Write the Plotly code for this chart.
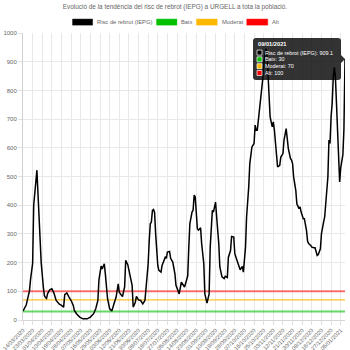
import pandas as pd
import plotly.graph_objects as go

# Risk-of-regrowth index (IEPG) for URGELL, sampled by day offset from 14/03/2020
start_date = "2020-03-14"
days = [0, 2, 3, 5, 6, 7, 8, 9, 10, 11, 13, 14, 16, 17, 19, 20, 21, 22, 23, 25,
        27, 29, 31, 34, 36, 38, 39, 41, 43, 45, 47, 48, 50, 53, 56, 60, 63, 66, 68, 70,
        71, 72, 73, 74, 75, 76, 77, 78, 79, 81, 83, 85, 87, 89, 90, 92, 93, 95, 96, 98,
        100, 102, 103, 105, 106, 108, 110, 112, 114, 115, 117, 118, 119, 120, 121, 122, 123, 124, 125, 126,
        127, 129, 130, 132, 133, 134, 135, 137, 138, 140, 142, 143, 145, 146, 148, 149, 151, 153, 154, 155,
        156, 158, 159, 160, 161, 163, 164, 166, 167, 169, 170, 172, 174, 175, 177, 178, 179, 180, 181, 183,
        184, 186, 188, 189, 191, 192, 194, 195, 197, 198, 200, 202, 203, 205, 206, 208, 209, 211, 212, 214,
        216, 217, 218, 219, 221, 223, 224, 225, 226, 227, 228, 229, 230, 231, 233, 234, 235, 237, 238, 240,
        241, 243, 244, 246, 247, 248, 250, 251, 252, 253, 255, 256, 258, 259, 260, 262, 263, 265, 266, 267,
        269, 270, 272, 273, 275, 276, 278, 279, 281, 282, 283, 285, 286, 287, 288, 289, 290, 291, 292, 293,
        294, 295, 296, 297, 298, 299, 300, 301]
iepg = [31, 45, 52, 85, 100, 140, 167, 197, 400, 440, 522, 441, 302, 200, 115, 85, 78, 75, 92, 105,
        109, 93, 68, 55, 51, 45, 88, 94, 80, 68, 51, 33, 22, 10, 4, 4, 10, 22, 39, 68,
        140, 175, 188, 178, 185, 196, 160, 120, 75, 39, 31, 56, 79, 126, 97, 86, 82, 115, 208, 192,
        161, 121, 45, 62, 82, 70, 68, 56, 68, 115, 196, 277, 335, 341, 382, 385, 375, 300, 230, 190,
        173, 167, 190, 208, 219, 215, 237, 239, 215, 202, 161, 121, 97, 91, 132, 126, 115, 140, 155, 254,
        336, 376, 382, 435, 429, 318, 313, 321, 266, 196, 91, 59, 91, 254, 382, 376, 400, 411, 360, 266,
        185, 150, 144, 152, 148, 219, 242, 291, 289, 231, 208, 182, 175, 187, 167, 254, 359, 463, 545, 603,
        615, 679, 661, 661, 731, 778, 836, 890, 925, 945, 935, 870, 800, 708, 673, 690, 661, 592, 533, 539,
        568, 580, 627, 667, 638, 598, 563, 557, 545, 498, 452, 405, 388, 394, 376, 353, 353, 312, 275, 266,
        260, 254, 252, 252, 225, 228, 248, 301, 341, 359, 405, 498, 627, 615, 708, 754, 842, 880, 850, 760,
        620, 560, 481, 530, 560, 575, 665, 909.1]

# Risk thresholds
baix = 30
moderat = 70
alt = 100

tick_labels = ["14/03/2020", "23/03/2020", "01/04/2020", "10/04/2020", "19/04/2020", "28/04/2020",
               "07/05/2020", "16/05/2020", "25/05/2020", "03/06/2020", "12/06/2020", "21/06/2020",
               "30/06/2020", "09/07/2020", "18/07/2020", "27/07/2020", "05/08/2020", "14/08/2020",
               "23/08/2020", "01/09/2020", "10/09/2020", "19/09/2020", "28/09/2020", "07/10/2020",
               "16/10/2020", "25/10/2020", "03/11/2020", "12/11/2020", "21/11/2020", "30/11/2020",
               "09/12/2020", "18/12/2020", "27/12/2020", "05/01/2021"]

dates = pd.Timestamp(start_date) + pd.to_timedelta(days, unit="D")
tick_vals = pd.to_datetime(tick_labels, format="%d/%m/%Y")
x_span = [dates[0], dates[-1]]

FONT = "Liberation Sans, Arial, Helvetica, sans-serif"
GREY = "#666666"
C_IEPG = "#000000"
C_BAIX = "#00c000"
C_MOD = "#ffb800"
C_ALT = "#ff0000"

fig = go.Figure()
fig.add_trace(go.Scatter(x=x_span, y=[baix, baix], mode="lines",
                         line=dict(color="rgba(0,192,0,0.6)", width=2), showlegend=False))
fig.add_trace(go.Scatter(x=x_span, y=[moderat, moderat], mode="lines",
                         line=dict(color="rgba(255,184,0,0.85)", width=1.2), showlegend=False))
fig.add_trace(go.Scatter(x=x_span, y=[alt, alt], mode="lines",
                         line=dict(color="rgba(255,0,0,0.55)", width=2), showlegend=False))
fig.add_trace(go.Scatter(x=dates, y=iepg, mode="lines",
                         line=dict(color=C_IEPG, width=1.5), showlegend=False))

shapes = []
annotations = []

# Legend drawn as Chart.js-style colour boxes
legend_items = [("Risc de rebrot (IEPG)", C_IEPG, 0.154, 0.216),
                ("Baix", C_BAIX, 0.415, 0.478),
                ("Moderat", C_MOD, 0.539, 0.603),
                ("Alt", C_ALT, 0.695, 0.760)]
for name, col, bx0, bx1 in legend_items:
    shapes.append(dict(type="rect", xref="paper", yref="paper", x0=bx0, x1=bx1,
                       y0=1.0275, y1=1.0485, fillcolor=col, line=dict(color=col, width=0.5)))
    annotations.append(dict(xref="paper", yref="paper", x=bx1 + 0.008, y=1.038,
                            xanchor="left", yanchor="middle", showarrow=False, text=name,
                            font=dict(family=FONT, size=5.8, color=GREY)))

# Hover tooltip for the last point
lx, ly = dates[-1], iepg[-1]
r = 3
bx0, bx1, by0, by1 = -92, -4, -21, 21
path = (f"M {bx0 + r},{by0} L {bx1 - r},{by0} Q {bx1},{by0} {bx1},{by0 + r} "
        f"L {bx1},-4 L 0,0 L {bx1},4 "
        f"L {bx1},{by1 - r} Q {bx1},{by1} {bx1 - r},{by1} L {bx0 + r},{by1} "
        f"Q {bx0},{by1} {bx0},{by1 - r} L {bx0},{by0 + r} Q {bx0},{by0} {bx0 + r},{by0} Z")
shapes.append(dict(type="path", xref="x", yref="y", xsizemode="pixel", ysizemode="pixel",
                   xanchor=lx, yanchor=ly, path=path, fillcolor="rgba(0,0,0,0.8)",
                   line=dict(width=0), layer="above"))
annotations.append(dict(x=lx, y=ly, xref="x", yref="y", xanchor="left", yanchor="middle",
                        xshift=bx0 + 3, yshift=15, showarrow=False, text="<b>09/01/2021</b>",
                        font=dict(family=FONT, size=5.7, color="#ffffff")))
tip_rows = [(f"Risc de rebrot (IEPG): {iepg[-1]}", C_IEPG),
            (f"Baix: {baix}", C_BAIX),
            (f"Moderat: {moderat}", C_MOD),
            (f"Alt: {alt}", C_ALT)]
for i, (txt, col) in enumerate(tip_rows):
    yoff = 6.5 - i * 6.8
    shapes.append(dict(type="rect", xref="x", yref="y", xsizemode="pixel", ysizemode="pixel",
                       xanchor=lx, yanchor=ly, x0=bx0 + 4, x1=bx0 + 9, y0=yoff - 2.5, y1=yoff + 2.5,
                       fillcolor=col, line=dict(color="#ffffff", width=0.7), layer="above"))
    annotations.append(dict(x=lx, y=ly, xref="x", yref="y", xanchor="left", yanchor="middle",
                            xshift=bx0 + 9.5, yshift=yoff, showarrow=False, text=txt,
                            font=dict(family=FONT, size=5.4, color="#ffffff")))

fig.update_layout(
    width=350, height=350,
    margin=dict(l=23, r=5, t=33, b=30, autoexpand=False),
    paper_bgcolor="#ffffff", plot_bgcolor="#ffffff",
    font=dict(family=FONT, size=6, color=GREY),
    title=dict(text="Evolució de la tendència del risc de rebrot (IEPG) a URGELL a tota la població.",
               x=0.5, xanchor="center", y=0.98, yanchor="middle", yref="container",
               font=dict(family=FONT, size=6.4, color=GREY)),
    shapes=shapes, annotations=annotations,
    xaxis=dict(type="date", range=x_span, tickvals=tick_vals, ticktext=tick_labels,
               tickangle=-45, tickfont=dict(family=FONT, size=5.6, color=GREY),
               showgrid=True, gridcolor="#e8e8e8", gridwidth=1,
               showline=True, linecolor="#d6d6d6", linewidth=1,
               ticks="outside", ticklen=4, tickcolor="#e0e0e0", zeroline=False),
    yaxis=dict(range=[0, 1000], tickvals=list(range(0, 1001, 100)),
               tickfont=dict(family=FONT, size=6, color=GREY),
               showgrid=True, gridcolor="#e8e8e8", gridwidth=1,
               showline=True, linecolor="#d0d0d0", linewidth=1,
               ticks="outside", ticklen=4, tickcolor="#e0e0e0", zeroline=False),
)

fig.write_html("out.html")
